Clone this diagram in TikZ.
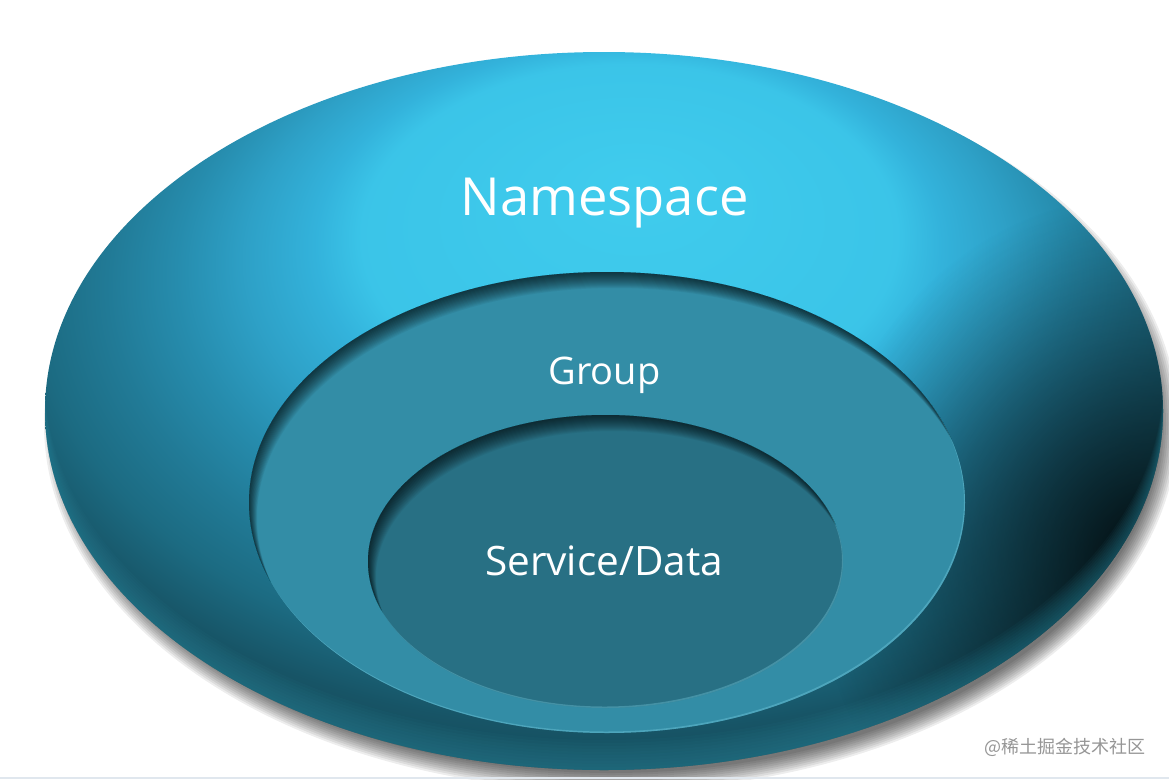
\documentclass[tikz,border=0pt]{standalone}
\usepackage{fontspec}
\setmainfont{Open Sans}
\newfontfamily\cjk{Noto Sans CJK SC}
\usetikzlibrary{fadings}
\definecolor{midfill}{RGB}{51,141,166}
\definecolor{innfill}{RGB}{40,112,132}
\definecolor{rimlight}{RGB}{110,196,216}
\definecolor{rimteal}{RGB}{45,140,162}
\definecolor{wmgray}{RGB}{150,150,150}
\definecolor{botline}{RGB}{224,231,238}
\pgfdeclareradialshading{outershade}{\pgfpoint{1.5bp}{16bp}}{%
 rgb(0bp)=(0.25,0.80,0.93);
 rgb(12bp)=(0.23,0.77,0.91);
 rgb(14bp)=(0.20,0.70,0.86);
 rgb(17bp)=(0.18,0.63,0.78);
 rgb(20bp)=(0.15,0.55,0.68);
 rgb(23bp)=(0.13,0.48,0.59);
 rgb(26bp)=(0.11,0.42,0.51);
 rgb(29bp)=(0.09,0.33,0.40);
 rgb(31bp)=(0.08,0.30,0.36);
 rgb(50bp)=(0.08,0.30,0.36)}
\tikzfading[name=softdisc, inner color=transparent!0, outer color=transparent!100]
\tikzset{
  label/.style={text=white, inner sep=0pt, anchor=base},
  shadowlayer/.style={fill=black, fill opacity=0.07},
  insetlayer/.style={fill=black, fill opacity=0.05, even odd rule},
}
\begin{document}
\begin{tikzpicture}[x=1pt,y=-1pt]
\fill[white] (0,0) rectangle (1169,779);
\useasboundingbox (0,0) rectangle (1169,779);
% drop shadow
\foreach \k in {-10,-8,...,8}{
  \fill[shadowlayer] (611,424) ellipse ({559+\k} and {359+\k});
}
% outer ellipse
\shade[shading=outershade] (604,411) ellipse (559 and 359);
\begin{scope}
  \clip (604,411) ellipse (559 and 359);
  \fill[black, path fading=softdisc, fill opacity=0.85] (1145,555) ellipse (330 and 360);
  \foreach \d in {3,6,...,30}{
    \fill[fill=rimteal, fill opacity=0.06, even odd rule] (0,0) rectangle (1169,779) (604,{411-\d}) ellipse (559 and 359);
  }
\end{scope}
% middle ellipse
\fill[midfill] (607,502.5) ellipse (358 and 230.5);
\begin{scope}
  \clip (607,502.5) ellipse (358 and 230.5);
  \foreach \d in {1,...,16}{
    \fill[insetlayer] (0,0) rectangle (1169,779) ({607+0.5*\d},{502.5+\d}) ellipse (358 and 230.5);
  }
  \fill[fill=rimlight, fill opacity=0.45, even odd rule] (0,0) rectangle (1169,779) (606,501) ellipse (358 and 230.5);
\end{scope}
% inner ellipse
\fill[innfill] (605.5,561.5) ellipse (237.5 and 146.5);
\begin{scope}
  \clip (605.5,561.5) ellipse (237.5 and 146.5);
  \foreach \d in {1,...,16}{
    \fill[insetlayer] (0,0) rectangle (1169,779) ({605.5+0.5*\d},{561.5+\d}) ellipse (237.5 and 146.5);
  }
  \fill[fill=rimlight, fill opacity=0.4, even odd rule] (0,0) rectangle (1169,779) (604.5,560) ellipse (237.5 and 146.5);
\end{scope}
% labels
\node[label, font=\fontsize{52.5}{60}\selectfont] (ns) at (604.5,215) {Namespace};
\node[label, font=\fontsize{38}{44}\selectfont] (grp) at (604.5,384) {Group};
\node[label, font=\fontsize{40.5}{46}\selectfont] (svc) at (604,575) {Service/Data};
% watermark
\node[text=wmgray, inner sep=0pt, font=\cjk\fontsize{18}{20}\selectfont] (wm) at (1065,747) {@稀土掘金技术社区};
\fill[fill=botline] (0,776.5) rectangle (1169,779);
\end{tikzpicture}
\end{document}
